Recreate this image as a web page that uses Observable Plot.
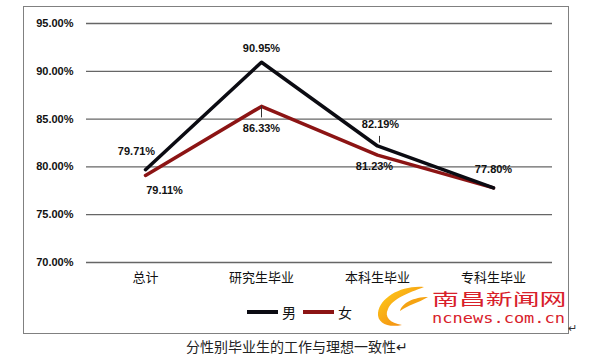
<!DOCTYPE html>
<html><head><meta charset="utf-8">
<script src="https://cdn.jsdelivr.net/npm/d3@7"></script>
<script src="https://cdn.jsdelivr.net/npm/@observablehq/plot@0.6"></script>
<style>
html,body{margin:0;padding:0;background:#fff;}
#wrap{position:relative;width:600px;height:360px;overflow:hidden;font-family:"Liberation Sans","Noto Sans CJK SC",sans-serif;}
#frame{position:absolute;left:23px;top:6px;width:544px;height:326px;border:1px solid #808080;}
#chart{position:absolute;left:0;top:0;}
.leg{position:absolute;top:302px;font-size:14px;font-family:"Noto Sans CJK SC",sans-serif;color:#111;}
.legline{position:absolute;top:310px;height:4px;width:31px;}
#caption{position:absolute;top:336px;left:0;width:594px;text-align:center;font-size:14px;font-family:"Noto Sans CJK SC",sans-serif;color:#222;}
#wm1{position:absolute;left:432px;top:285.5px;font-size:21px;line-height:normal;font-family:"Noto Sans CJK SC",sans-serif;color:#d8202a;transform:scale(1.28,0.78);transform-origin:0 0;white-space:nowrap;}
#wm2{position:absolute;left:432px;top:309.5px;font-size:17px;line-height:normal;font-family:"DejaVu Sans Mono",monospace;color:#d8202a;transform:scaleY(0.8);transform-origin:0 0;white-space:nowrap;}
#ret{position:absolute;left:568px;top:322px;font-size:11px;color:#333;}
</style></head>
<body><div id="wrap">
<div id="frame"></div>
<div id="chart"></div>
</div>
<script>
const categories = ["总计", "研究生毕业", "本科生毕业", "专科生毕业"];
const seriesNames = ["男", "女"];
const maleValues = [79.71, 90.95, 82.19, 77.80];
const femaleValues = [79.11, 86.33, 81.23, 77.80];
const yTicks = [70, 75, 80, 85, 90, 95];
const captionText = "分性别毕业生的工作与理想一致性↵";
const colors = ["#0b0b12", "#8c1414"];

const rows = [];
categories.forEach((c, i) => {
  rows.push({cat: c, series: seriesNames[0], value: maleValues[i]});
  rows.push({cat: c, series: seriesNames[1], value: femaleValues[i]});
});

// label placement (style only): [series, category, dx, dy]
const labelPlacement = [
  ["男", "总计", -9, -18],
  ["女", "总计", 19, 15],
  ["男", "研究生毕业", 0, -14],
  ["女", "研究生毕业", 0, 22],
  ["男", "本科生毕业", 3, -21],
  ["女", "本科生毕业", -3, 11],
  ["男", "专科生毕业", 0, -18]
];

const labelMarks = labelPlacement.map(([s, c, dx, dy]) =>
  Plot.text(rows.filter(d => d.series === s && d.cat === c), {
    x: "cat", y: "value", text: d => d.value.toFixed(2) + "%",
    dx, dy, fontWeight: "bold", fontSize: 11, fill: "#111"
  })
);

const plot = Plot.plot({
  width: 600, height: 360,
  marginLeft: 86, marginRight: 48, marginTop: 23, marginBottom: 98,
  style: {fontFamily: "Liberation Sans, Noto Sans CJK SC, sans-serif", fontSize: "11px", background: "transparent", color: "#111"},
  x: {type: "point", domain: categories, padding: 0.5},
  y: {domain: [70, 95]},
  color: {domain: seriesNames, range: colors},
  marks: [
    Plot.gridY(yTicks, {stroke: "#666", strokeOpacity: 1, strokeWidth: 1.3}),
    Plot.axisY(yTicks, {tickSize: 0, tickPadding: 13, tickFormat: d => d.toFixed(2) + "%", fontWeight: "bold", fontSize: 11, label: null}),
    Plot.axisX({tickSize: 0, tickPadding: 10, fontSize: 13, label: null, fontFamily: "Noto Sans CJK SC"}),
    Plot.line(rows.filter(d => d.series === "女"), {x: "cat", y: "value", stroke: colors[1], strokeWidth: 3.5}),
    Plot.line(rows.filter(d => d.series === "男"), {x: "cat", y: "value", stroke: colors[0], strokeWidth: 3.5}),
    Plot.ruleX(rows.filter(d => d.series === "女" && d.cat === "研究生毕业"), {x: "cat", y1: d => d.value, y2: d => d.value - 1.2, stroke: "#333", strokeWidth: 1}),
    Plot.ruleX(rows.filter(d => d.series === "男" && d.cat === "本科生毕业"), {x: "cat", y1: d => d.value + 0.3, y2: d => d.value + 1.0, dx: 2, stroke: "#333", strokeWidth: 1}),
    ...labelMarks
  ]
});
document.getElementById("chart").appendChild(plot);

const wrap = document.getElementById("wrap");
function add(html){ wrap.insertAdjacentHTML("beforeend", html); }
add(`<div class="legline" style="left:247px;background:${colors[0]}"></div><div class="leg" style="left:282px">${seriesNames[0]}</div>`);
add(`<div class="legline" style="left:303px;background:${colors[1]}"></div><div class="leg" style="left:338px">${seriesNames[1]}</div>`);
add(`<div id="caption">${captionText}</div>`);
add(`<svg style="position:absolute;left:372px;top:283px" width="60" height="46"><defs><linearGradient id="g" x1="0" y1="0" x2="1" y2="1"><stop offset="0" stop-color="#ffd21a"/><stop offset="1" stop-color="#f07a10"/></linearGradient></defs><path d="M52 4 C30 2 8 14 6 30 C5 40 16 45 30 42 C18 40 12 34 16 26 C20 16 36 10 52 4 Z" fill="url(#g)"/><path d="M56 14 C42 14 30 20 28 28 C36 22 46 20 56 14 Z" fill="#f5a312"/></svg>`);
add(`<div id="wm1">南昌新闻网</div><div id="wm2">ncnews.com.cn</div><div id="ret">↵</div>`);
</script>
</body></html>
